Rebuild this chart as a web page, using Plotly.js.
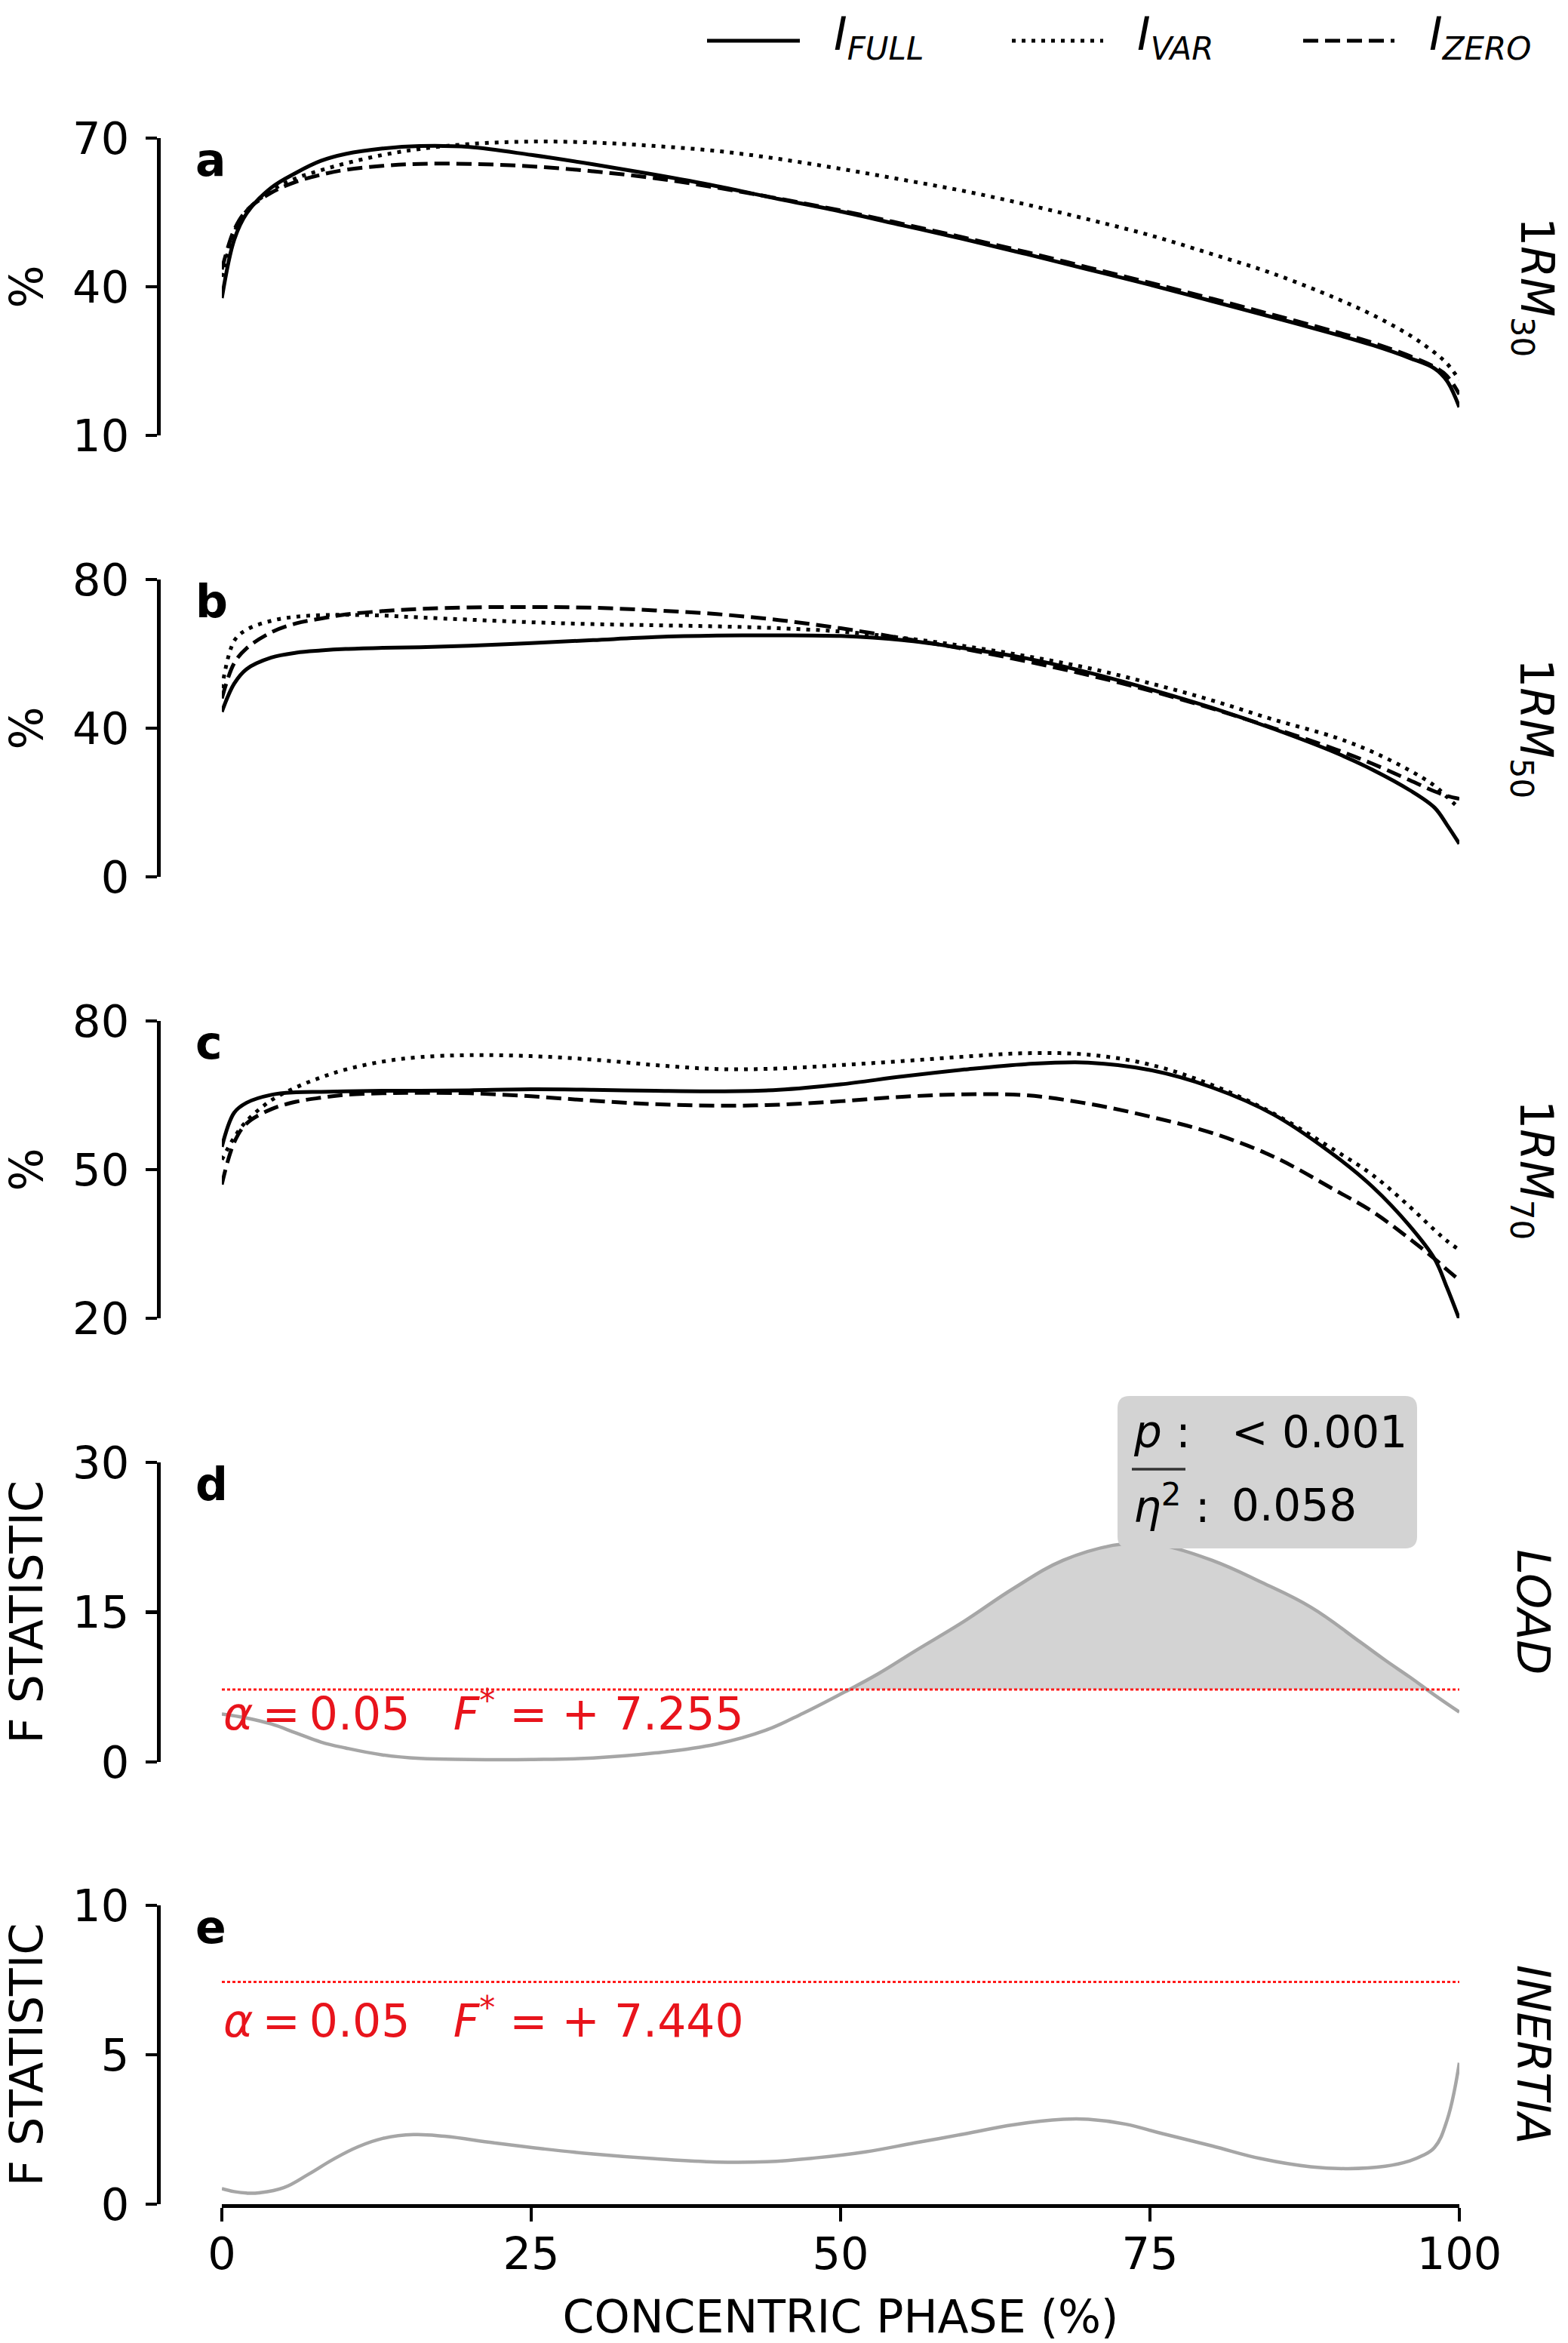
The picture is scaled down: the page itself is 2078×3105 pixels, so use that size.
<!DOCTYPE html>
<html><head><meta charset="utf-8">
<script src="https://cdn.plot.ly/plotly-3.0.1.min.js"></script>
<style>html,body{margin:0;padding:0;background:#fff}#chart{width:2078px;height:3105px}</style>
</head><body><div id="chart"></div>
<script>
// ---------------- DATA ----------------
const phase = [0,1,2,4,6,8,10,13,16,20,25,30,35,40,45,50,55,60,65,70,75,80,85,90,93,96,98,99,100];

const rm30Full = [37.7,49.5,54.8,60.0,63.0,65.4,66.8,67.9,68.4,68.2,66.6,64.7,62.6,60.3,57.7,55.2,52.4,49.6,46.6,43.5,40.4,37.1,33.8,30.4,28.2,25.6,23.5,21.0,15.7];
const rm30Var  = [42.0,51.0,55.3,59.4,61.9,63.5,64.9,66.6,67.8,68.8,69.3,69.1,68.4,67.4,65.8,63.8,61.6,59.3,56.6,53.6,50.4,46.6,42.6,37.7,34.3,30.2,26.7,24.5,21.2];
const rm30Zero = [43.5,51.5,55.4,59.0,61.2,62.6,63.6,64.4,64.8,64.8,64.3,63.3,61.9,60.0,57.8,55.4,52.7,49.9,47.0,43.9,40.8,37.6,34.3,30.9,28.7,26.0,23.8,22.0,18.3];

const rm50Full = [44.4,52.0,55.9,59.0,60.3,60.9,61.3,61.6,61.8,62.2,62.9,63.7,64.5,64.9,65.0,64.8,63.7,61.5,58.8,55.0,50.5,45.5,39.8,33.4,28.8,23.3,18.6,14.0,8.9];
const rm50Var  = [50.8,63.5,66.5,68.9,70.0,70.4,70.5,70.3,69.8,69.2,68.5,68.0,67.7,67.4,66.9,66.0,64.3,62.1,59.4,56.2,52.1,47.5,42.3,37.5,33.6,28.6,24.5,21.5,18.4];
const rm50Zero = [48.0,57.5,61.5,65.8,68.2,69.5,70.6,71.5,72.1,72.5,72.6,72.4,71.7,70.7,69.1,66.9,64.2,61.3,58.0,54.3,50.1,45.3,40.0,34.3,30.4,26.0,23.0,21.8,21.0];

const rm70Full = [54.6,61.5,63.5,65.1,65.6,65.7,65.8,65.9,65.9,66.0,66.2,66.1,65.9,65.8,66.1,67.2,68.8,70.2,71.3,71.6,70.1,66.6,61.1,52.7,46.5,38.6,32.0,26.2,19.8];
const rm70Var  = [52.0,56.5,59.8,64.0,66.6,68.6,70.2,71.8,72.7,73.1,72.9,72.2,71.1,70.3,70.4,71.1,71.9,72.8,73.5,73.2,71.2,67.1,61.3,53.8,48.9,42.5,37.8,35.6,33.8];
const rm70Zero = [47.0,55.5,59.3,62.2,63.7,64.5,65.1,65.4,65.5,65.4,64.8,63.9,63.2,62.9,63.1,63.8,64.7,65.2,65.0,63.3,60.7,57.4,52.6,45.8,41.5,36.0,32.0,29.8,27.7];

const phaseLoad = [0,2,4,6,8,10,13,16,20,25,30,35,40,44,47,50,53,56,60,64,68,72,74,76,80,84,88,92,94,96,98,100];
const fLoad     = [4.8,4.4,3.8,2.9,2.0,1.4,0.7,0.35,0.25,0.25,0.4,0.9,1.8,3.2,4.9,6.8,8.8,11.1,14.1,17.4,20.2,21.7,21.9,21.7,20.2,18.0,15.5,12.0,10.2,8.5,6.7,5.0];
const critLoad = 7.255;
const pLoad = '&lt; 0.001';
const etaLoad = '0.058';

const phaseInertia = [0,1,2,3,5,7,9,11,13,15.5,18,22,26,30,35,40,44,48,52,56,60,64,68,70,73,76,80,84,88,91,94,96,97,98,99,100];
const fInertia     = [0.52,0.42,0.37,0.38,0.55,1.0,1.5,1.92,2.2,2.33,2.27,2.05,1.85,1.68,1.52,1.41,1.42,1.55,1.75,2.05,2.35,2.66,2.84,2.84,2.68,2.36,1.95,1.52,1.25,1.19,1.27,1.45,1.62,1.9,2.8,4.73];
const critInertia = 7.440;
const alphaLevel = 0.05;

const seriesSubs = ['FULL','VAR','ZERO'];
const loadPct = ['30','50','70'];
const xTicks = [0,25,50,75,100];

// ---------------- LAYOUT HELPERS ----------------
const W = 2078, H = 3105;
const PX = v => v / W, PY = v => 1 - v / H;
const FONT = 'DejaVu Sans';
const X0 = 294, X1 = 1934, SPINE = 210;
const subSpan = (s, italic) => '<span style="font-size:42px;baseline-shift:-13px' + (italic ? ';font-style:italic' : '') + '">' + s + '</span>';
const supSpan = (s, shift) => '<span style="font-size:42px;baseline-shift:' + shift + 'px">' + s + '</span>';
const seriesNames = seriesSubs.map(s => '<i>I</i>' + subSpan(s, true));

const styles = [
  {color:'#000', width:5, dash:'solid'},
  {color:'#000', width:5, dash:'5px,8px'},
  {color:'#000', width:5, dash:'20px,9px'}
];

const panels = [
  {letter:'a', top:183,  bottom:577,  range:[10,70], ticks:[10,40,70], ytitle:'%', right:'1<i>RM</i>' + subSpan(loadPct[0], false), series:[rm30Full,rm30Var,rm30Zero]},
  {letter:'b', top:768,  bottom:1162, range:[0,80],  ticks:[0,40,80],  ytitle:'%', right:'1<i>RM</i>' + subSpan(loadPct[1], false), series:[rm50Full,rm50Var,rm50Zero]},
  {letter:'c', top:1353, bottom:1747, range:[20,80], ticks:[20,50,80], ytitle:'%', right:'1<i>RM</i>' + subSpan(loadPct[2], false), series:[rm70Full,rm70Var,rm70Zero]},
  {letter:'d', top:1938, bottom:2335, range:[0,30],  ticks:[0,15,30],  ytitle:'F STATISTIC', right:'<i>LOAD</i>'},
  {letter:'e', top:2525, bottom:2921, range:[0,10],  ticks:[0,5,10],   ytitle:'F STATISTIC', right:'<i>INERTIA</i>'}
];

const data = [];
const layout = {
  width: W, height: H,
  margin: {l:0, r:0, t:0, b:0},
  paper_bgcolor: '#fff', plot_bgcolor: 'rgba(0,0,0,0)',
  showlegend: false,
  font: {family: FONT, color: '#000', size: 59},
  annotations: [], shapes: []
};

panels.forEach((p, i) => {
  const n = i + 1, sx = n === 1 ? '' : String(n);
  const isLast = n === panels.length;
  const xa = {
    domain: [PX(X0), PX(X1)], range: [0, 100], anchor: 'y' + sx,
    showgrid: false, zeroline: false, automargin: false, fixedrange: true,
    visible: isLast
  };
  if (isLast) Object.assign(xa, {
    showline: true, linewidth: 5, linecolor: '#000',
    ticks: 'outside', ticklen: 18, tickwidth: 4.5, tickcolor: '#000',
    tickvals: xTicks, ticktext: xTicks.map(String), ticklabelstandoff: -8,
    tickfont: {family: FONT, size: 59, color: '#000'},
    title: {text: 'CONCENTRIC PHASE (%)', font: {family: FONT, size: 60, color: '#000'}, standoff: 31}
  });
  layout['xaxis' + sx] = xa;
  layout['yaxis' + sx] = {
    domain: [PY(p.bottom), PY(p.top)], range: p.range, anchor: 'free', position: PX(SPINE), side: 'left',
    showgrid: false, zeroline: false, automargin: false, fixedrange: true,
    showline: true, linewidth: 5, linecolor: '#000',
    ticks: 'outside', ticklen: 15, tickwidth: 4.5, tickcolor: '#000',
    tickvals: p.ticks, ticktext: p.ticks.map(String), ticklabelstandoff: 10,
    tickfont: {family: FONT, size: 59, color: '#000'},
    title: {text: p.ytitle, font: {family: FONT, size: 60, color: '#000'}, standoff: 34}
  };
  // panel letter
  layout.annotations.push({text: '<b>' + p.letter + '</b>', xref: 'paper', yref: 'paper',
    x: PX(257), y: PY(p.top), xanchor: 'left', yanchor: 'top', yshift: 8, showarrow: false,
    font: {family: FONT, size: 60, color: '#000'}});
  // right-side label
  layout.annotations.push({text: p.right, xref: 'paper', yref: 'paper',
    x: PX(2032), y: PY((p.top + p.bottom) / 2), xanchor: 'center', yanchor: 'middle', textangle: 90,
    showarrow: false, font: {family: FONT, size: 60, color: '#000'}});

  if (p.series) {
    p.series.forEach((ys, k) => {
      data.push({x: phase, y: ys, xaxis: 'x' + sx, yaxis: 'y' + sx, mode: 'lines', name: 'I ' + seriesSubs[k],
        line: {color: styles[k].color, width: styles[k].width, dash: styles[k].dash, shape: 'spline', smoothing: 1},
        hoverinfo: 'skip'});
    });
  }
});

// ---------- SPM F panels ----------
function supraSegments(xs, ys, thr) {
  const segs = []; let cur = null;
  for (let i = 0; i < xs.length; i++) {
    if (ys[i] > thr) {
      if (!cur) {
        cur = {x: [], y: []};
        if (i > 0) { const t = (thr - ys[i-1]) / (ys[i] - ys[i-1]); cur.x.push(xs[i-1] + t * (xs[i] - xs[i-1])); cur.y.push(thr); }
      }
      cur.x.push(xs[i]); cur.y.push(ys[i]);
    } else if (cur) {
      const t = (thr - ys[i-1]) / (ys[i] - ys[i-1]); cur.x.push(xs[i-1] + t * (xs[i] - xs[i-1])); cur.y.push(thr);
      segs.push(cur); cur = null;
    }
  }
  if (cur) segs.push(cur);
  return segs;
}

function spmPanel(xs, ys, thr, ax, yshiftTxt) {
  const xa = 'x' + ax, ya = 'y' + ax;
  supraSegments(xs, ys, thr).forEach(seg => {
    data.push({x: seg.x, y: seg.x.map(() => thr), xaxis: xa, yaxis: ya, mode: 'lines', line: {width: 0}, hoverinfo: 'skip'});
    data.push({x: seg.x, y: seg.y, xaxis: xa, yaxis: ya, mode: 'lines', fill: 'tonexty', fillcolor: '#d3d3d3',
      line: {width: 0, shape: 'spline', smoothing: 1.2}, hoverinfo: 'skip'});
  });
  data.push({x: xs, y: ys, xaxis: xa, yaxis: ya, mode: 'lines',
    line: {color: '#a6a6a6', width: 4.5, shape: 'spline', smoothing: 1.2}, hoverinfo: 'skip'});
  const xmin = Math.min(...xs), xmax = Math.max(...xs);
  data.push({x: [xmin, xmax], y: [thr, thr], xaxis: xa, yaxis: ya, mode: 'lines',
    line: {color: '#ff1a1a', width: 3, dash: '4px,3px'}, hoverinfo: 'skip'});
  layout.annotations.push({
    text: '<i>α</i>\u2009=\u2009' + alphaLevel.toFixed(2) + '\u00a0\u00a0\u00a0<i>F</i>' + supSpan('*', 24) + '\u00a0=\u00a0+\u00a0' + thr.toFixed(3),
    xref: xa, yref: ya, x: xmin, y: thr, xanchor: 'left', yanchor: 'top', yshift: yshiftTxt, showarrow: false,
    font: {family: FONT, size: 60, color: '#e8141c'}});
}
spmPanel(phaseLoad, fLoad, critLoad, 4, 12);
spmPanel(phaseInertia, fInertia, critInertia, 5, -8);

// ---------- result box on panel d ----------
(function () {
  const x0 = PX(1481), x1 = PX(1878), yT = PY(1850), yB = PY(2052), rx = 16 / W, ry = 16 / H;
  const path = `M${x0+rx},${yT} L${x1-rx},${yT} Q${x1},${yT} ${x1},${yT-ry} L${x1},${yB+ry} Q${x1},${yB} ${x1-rx},${yB} L${x0+rx},${yB} Q${x0},${yB} ${x0},${yB+ry} L${x0},${yT-ry} Q${x0},${yT} ${x0+rx},${yT} Z`;
  layout.shapes.push({type: 'path', xref: 'paper', yref: 'paper', path: path, fillcolor: '#d3d3d3', line: {width: 0}, layer: 'above'});
  layout.shapes.push({type: 'line', xref: 'paper', yref: 'paper', x0: PX(1500), x1: PX(1571), y0: PY(1947), y1: PY(1947), line: {color: '#333', width: 3.5}, layer: 'above'});
  const f = {family: FONT, size: 58, color: '#000'};
  layout.annotations.push({text: '<i>p</i>\u00a0:', xref: 'paper', yref: 'paper', x: PX(1500), y: PY(1898), xanchor: 'left', yanchor: 'middle', showarrow: false, font: f});
  layout.annotations.push({text: pLoad, xref: 'paper', yref: 'paper', x: PX(1630), y: PY(1898), xanchor: 'left', yanchor: 'middle', showarrow: false, font: f});
  layout.annotations.push({text: '<i>η</i>' + supSpan('2', 22) + '\u00a0:', xref: 'paper', yref: 'paper', x: PX(1500), y: PY(1993), xanchor: 'left', yanchor: 'middle', showarrow: false, font: f});
  layout.annotations.push({text: etaLoad, xref: 'paper', yref: 'paper', x: PX(1630), y: PY(1995), xanchor: 'left', yanchor: 'middle', showarrow: false, font: f});
})();

// ---------- legend (keys drawn with the series styles) ----------
const legKeys = [[937,1060,1103],[1341,1462,1505],[1727,1848,1892]];
legKeys.forEach((k, i) => {
  layout.shapes.push({type: 'line', xref: 'paper', yref: 'paper', x0: PX(k[0]), x1: PX(k[1]), y0: PY(54), y1: PY(54),
    line: {color: styles[i].color, width: styles[i].width, dash: styles[i].dash}});
  layout.annotations.push({text: seriesNames[i], xref: 'paper', yref: 'paper', x: PX(k[2]), y: PY(50),
    xanchor: 'left', yanchor: 'middle', showarrow: false, font: {family: FONT, size: 60, color: '#000'}});
});

Plotly.newPlot('chart', data, layout, {staticPlot: true, displayModeBar: false});
</script>
</body></html>
